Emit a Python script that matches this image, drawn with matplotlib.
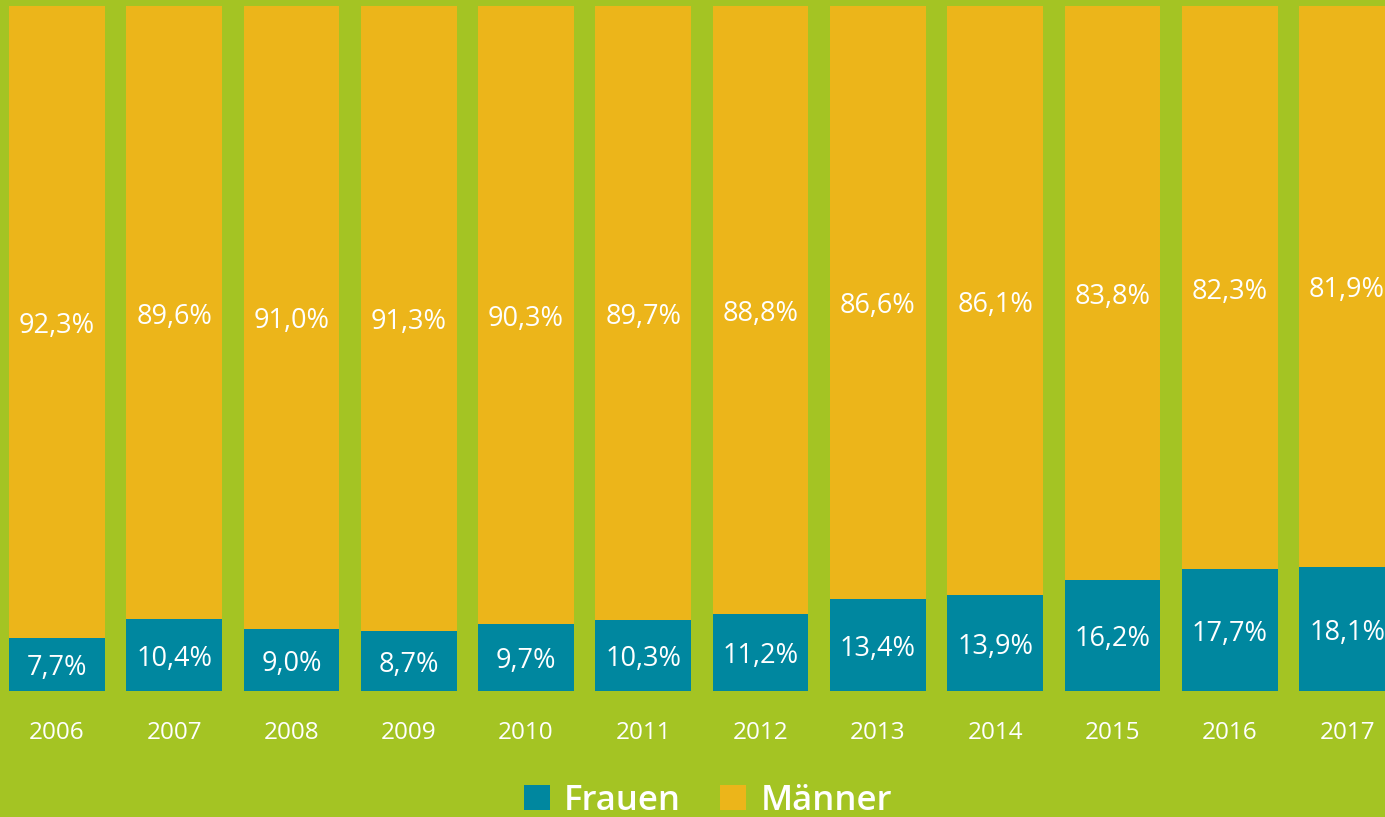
import numpy as np
import matplotlib
matplotlib.use('Agg')
import matplotlib.pyplot as plt

years = ['2006', '2007', '2008', '2009', '2010', '2011',
         '2012', '2013', '2014', '2015', '2016', '2017']
frauen = [7.7, 10.4, 9.0, 8.7, 9.7, 10.3, 11.2, 13.4, 13.9, 16.2, 17.7, 18.1]
maenner = [92.3, 89.6, 91.0, 91.3, 90.3, 89.7, 88.8, 86.6, 86.1, 83.8, 82.3, 81.9]

GREEN = '#A4C423'
TEAL = '#00879F'
GOLD = '#ECB51A'

plt.rcParams['font.family'] = ['Open Sans', 'DejaVu Sans']


def fmt(v):
    return ('%.1f%%' % v).replace('.', ',')


def main():
    fig = plt.figure(figsize=(13.85, 8.17), dpi=100, facecolor=GREEN)
    ax = fig.add_axes([0, 0.1546, 1, 0.8384])
    ax.set_facecolor(GREEN)

    x = np.arange(len(years))
    w = 0.816
    b1 = ax.bar(x, frauen, w, color=TEAL, label='Frauen')
    b2 = ax.bar(x, maenner, w, bottom=frauen, color=GOLD, label='Männer')

    # labels centred in each segment, nudged down a bit
    for i in x:
        ax.annotate(fmt(frauen[i]), (i, frauen[i] / 2), xytext=(0, -4),
                    textcoords='offset pixels', ha='center', va='center',
                    color='white', fontsize=19.5)
        ax.annotate(fmt(maenner[i]), (i, frauen[i] + maenner[i] / 2),
                    xytext=(0, -4), textcoords='offset pixels', ha='center',
                    va='center', color='white', fontsize=19.5)

    ax.set_xlim(-0.4842, 11.323)
    ax.set_ylim(0, 100)
    ax.set_xticks(x)
    ax.set_xticklabels(years, color='white', fontsize=17.5)
    ax.tick_params(axis='x', length=0, pad=22)
    ax.set_yticks([])
    for s in ax.spines.values():
        s.set_visible(False)

    fig.legend(handles=[b1, b2], loc='center', bbox_to_anchor=(0.511, 0.02),
               ncol=2, frameon=False, handlelength=0.75,
               handleheight=0.75, handletextpad=0.4, columnspacing=1.15,
               labelcolor='white', prop={'weight': 'semibold', 'size': 25})

    fig.savefig('out.png', dpi=100, facecolor=GREEN)


if __name__ == '__main__':
    main()
